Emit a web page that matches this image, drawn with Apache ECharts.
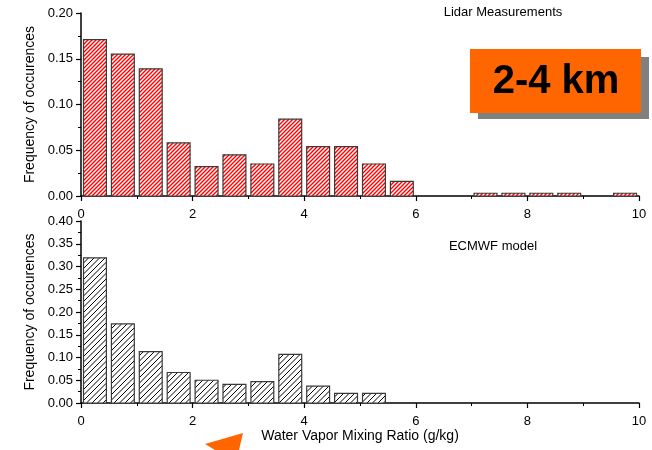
<!DOCTYPE html>
<html><head><meta charset="utf-8">
<script src="https://cdn.jsdelivr.net/npm/echarts@6/dist/echarts.min.js"></script>
<style>html,body{margin:0;padding:0;background:#fff}#c{width:652px;height:450px}</style>
</head><body><div id="c"></div>
<script>
// Bin centres (g/kg), bin width 0.5
const binCenters = [0.25,0.75,1.25,1.75,2.25,2.75,3.25,3.75,4.25,4.75,5.25,5.75,6.25,6.75,7.25,7.75,8.25,8.75,9.25,9.75];
const lidarFreq = [0.171,0.155,0.139,0.058,0.032,0.045,0.035,0.084,0.054,0.054,0.035,0.016,0,0,0.003,0.003,0.003,0.003,0,0.003];
const ecmwfFreq = [0.319,0.174,0.113,0.067,0.050,0.041,0.047,0.107,0.037,0.021,0.021,0,0,0,0,0,0,0,0,0];
const xTicks = [0,2,4,6,8,10];
const topTitle = 'Lidar Measurements';
const bottomTitle = 'ECMWF model';
const yName = 'Frequency of occurences';
const xName = 'Water Vapor Mixing Ratio (g/kg)';
const boxLabel = '2-4 km';

const font = 'Liberation Sans';
const halfW = 0.205;

function hatchLines(x0, y0, w, h, step, color, lw){
  const out = [];
  const cStart = Math.ceil((x0 + y0) / step) * step;
  for (let c = cStart; c <= x0 + w + y0 + h; c += step){
    const xa = Math.max(x0, c - (y0 + h));
    const xb = Math.min(x0 + w, c - y0);
    if (xb <= xa) continue;
    out.push({type:'line', silent:true, shape:{x1:xa, y1:c - xa, x2:xb, y2:c - xb},
      style:{stroke:color, lineWidth:lw}});
  }
  return out;
}
function mkRender(color, step, lw){
  return function(params, api){
    const x = api.value(0), y = api.value(1);
    if (!y) return null;
    const p0 = api.coord([x - halfW, y]);
    const p1 = api.coord([x + halfW, 0]);
    const rx = p0[0], ry = p0[1], rw = p1[0]-p0[0], rh = p1[1]-p0[1];
    const children = [{type:'rect', shape:{x:rx, y:ry, width:rw, height:rh}, style:{fill:'#fff'}}]
      .concat(hatchLines(rx, ry, rw, rh, step, color, lw))
      .concat([{type:'rect', shape:{x:rx, y:ry, width:rw, height:rh}, style:{fill:null, stroke:'#3a3a3a', lineWidth:1.2}}]);
    return {type:'group', children: children};
  };
}
const axisCommon = {
  axisLine:{show:true, onZero:false, lineStyle:{color:'#000', width:1.5}},
  axisTick:{show:true, inside:false, length:5, lineStyle:{color:'#000', width:1.2}},
  minorTick:{show:true, splitNumber:2, length:3, lineStyle:{color:'#000', width:1}},
  splitLine:{show:false},
  axisLabel:{color:'#000', fontFamily:font, fontSize:13},
  nameTextStyle:{color:'#000', fontFamily:font, fontSize:14}
};
function xAx(idx, name){
  return Object.assign({}, axisCommon, {type:'value', gridIndex:idx, min:xTicks[0], max:xTicks[xTicks.length-1], interval:2,
    axisLabel:Object.assign({}, axisCommon.axisLabel, {margin:12}),
    name: name, nameLocation:'middle', nameGap:26});
}
function yAx(idx, max){
  return Object.assign({}, axisCommon, {type:'value', gridIndex:idx, min:0, max:max, interval:0.05,
    axisLabel:Object.assign({}, axisCommon.axisLabel, {margin:8, formatter:v=>v.toFixed(2)}),
    name: yName, nameLocation:'middle', nameGap:44});
}
const chart = echarts.init(document.getElementById('c'), null, {renderer:'canvas'});
chart.setOption({
  animation:false,
  backgroundColor:'#fff',
  grid:[{left:81, right:13, top:13, height:183},{left:81, right:13, top:221, height:182}],
  xAxis:[xAx(0, ''), xAx(1, xName)],
  yAxis:[yAx(0, 0.2), yAx(1, 0.4)],
  series:[
    {type:'custom', xAxisIndex:0, yAxisIndex:0, renderItem:mkRender('#ff0000', 4, 1.4), data: binCenters.map((c,i)=>[c, lidarFreq[i]])},
    {type:'custom', xAxisIndex:1, yAxisIndex:1, renderItem:mkRender('#000000', 5.5, 1), data: binCenters.map((c,i)=>[c, ecmwfFreq[i]])}
  ],
  graphic:[
    {type:'text', style:{x:503, y:12, text:topTitle, fill:'#000', font:'13px "Liberation Sans"', textAlign:'center', textVerticalAlign:'middle'}},
    {type:'text', style:{x:493, y:246, text:bottomTitle, fill:'#000', font:'13px "Liberation Sans"', textAlign:'center', textVerticalAlign:'middle'}},
    {type:'rect', shape:{x:478, y:57, width:171, height:62}, style:{fill:'#808080'}},
    {type:'rect', shape:{x:470, y:49, width:171, height:64}, style:{fill:'#ff6600'}},
    {type:'text', style:{x:556, y:82, text:boxLabel, fill:'#000', font:'bold 40px "Liberation Sans"', textAlign:'center', textVerticalAlign:'middle'}},
    {type:'polygon', shape:{points:[[205,444],[243,433],[239,450],[215,450]]}, style:{fill:'#ff6600'}}
  ]
});
</script></body></html>
